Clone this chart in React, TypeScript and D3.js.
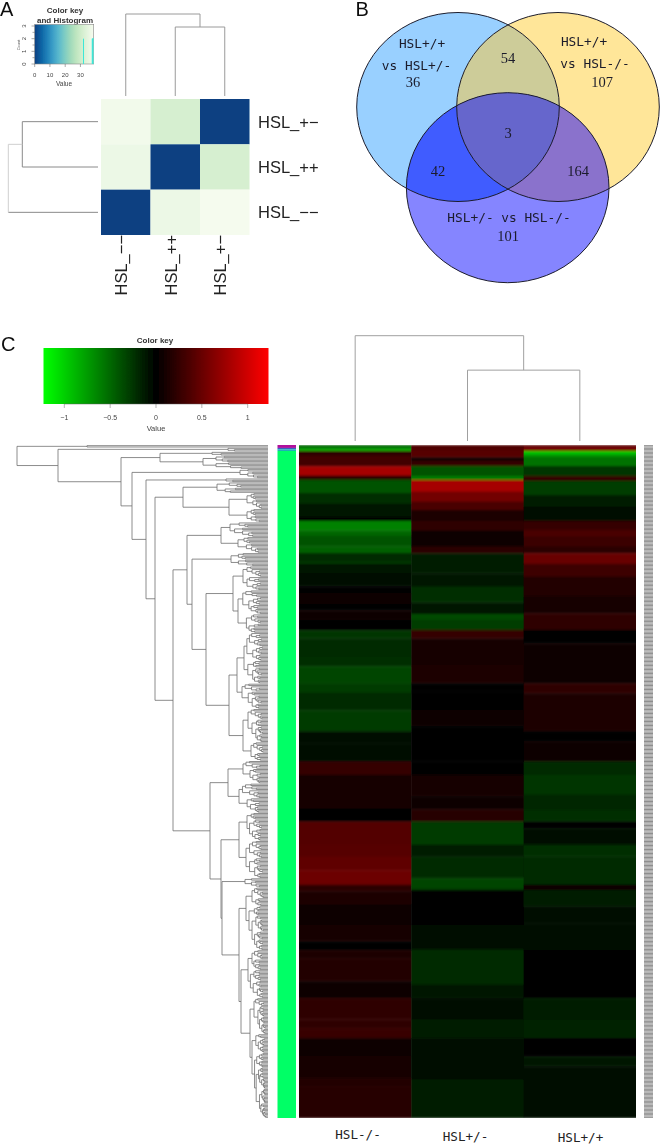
import React from "react";
import * as d3 from "d3";

// ---------- Panel A data ----------
const matrixRows = ["HSL_+−", "HSL_++", "HSL_−−"];
const matrixCols = ["HSL_−−", "HSL_++", "HSL_+−"];
const matrixValues = [
  [37.6, 31.5, 0],
  [36.4, 0, 31.5],
  [0, 36.4, 38.2],
];
const keyATicksX = [0, 10, 20, 30];
const keyATicksY = [0, 1, 2, 3];
const keyAMinorY = [0.5, 1.5, 2.5];
const histBins = [32, 38];
const histCounts = [2, 2];

// ---------- Panel B data ----------
const vennOnly = { a: 36, b: 107, c: 101 };
const vennPairs = { ab: 54, ac: 42, bc: 164 };
const vennAll = 3;

// ---------- Panel C data ----------
const geneColumns = ["HSL-/-", "HSL+/-", "HSL+/+"];
const geneRowCount = 505;
const keyCTicks = [-1, -0.5, 0, 0.5, 1];
// [last row of the band, log-ratio value]
const bandsKO: [number, number][] = [
  [2.5, -0.5], [4.5, -0.8], [8, 0.22], [16, 0.32], [23, 0.8], [26, 0.2], [36, -0.4], [44, -0.22], [54, -0.12], [57, -0.03],
  [64, -0.62], [68, -0.5], [76, -0.4], [81, -0.46], [87.5, -0.2], [89, -0.3], [96, -0.12], [106, -0.07], [111, -0.03], [119, 0.07],
  [124, 0.02], [131, 0.07], [139, 0], [145, -0.25], [159, -0.2], [166, -0.22], [179, -0.33], [186, -0.28], [199, -0.2], [215, -0.28],
  [224, -0.07], [231, -0.07], [237.5, -0.05], [247.5, 0.25], [273, 0.1], [282.5, 0], [300, 0.4], [309, 0.42], [319, 0.46], [330, 0.52],
  [335, 0.2], [345, 0.13], [360, 0.07], [372.5, 0.1], [379, 0.02], [385, 0.15], [402.5, 0.17], [415, 0.08], [431, 0.22], [437.5, 0.22],
  [445, 0.27], [459, 0.08], [475, 0.12], [481, 0.17], [505, 0.18],
];
const bandsHet: [number, number][] = [
  [3.75, 0.38], [9.25, 0.42], [11.75, 0.05], [15.75, 0.25], [23.25, -0.4], [26.25, -0.6], [35, 0.8], [42.5, 0.55], [48.75, 0.35], [57, 0.15],
  [64.25, 0.22], [68.75, 0.08], [76.25, 0.05], [81.25, 0.2], [96.25, -0.13], [106.25, -0.12], [118, -0.22], [126.75, -0.12], [131.25, -0.35], [138.75, -0.3],
  [145, 0.25], [165, 0.12], [178.75, 0.15], [185, 0.01], [198.75, 0], [211.25, 0.06], [237.5, 0.01], [247.5, -0.02], [263.75, 0.12], [273.25, 0.06],
  [282.5, 0.18], [300, -0.28], [308.75, -0.13], [325, -0.2], [333.75, -0.33], [360, -0.01], [378.75, -0.07], [405, -0.2], [415, -0.12], [431.25, -0.07],
  [445, -0.15], [476.25, -0.08], [505, -0.14],
];
const bandsWT: [number, number][] = [
  [1.75, 0.45], [4.5, 0.55], [6.75, -0.95], [8.75, -0.75], [15.75, -0.55], [23.25, -0.25], [26.75, 0.25], [37.5, -0.3], [46.25, -0.15], [57, -0.05],
  [63.75, 0.25], [68.75, 0.35], [76.25, 0.28], [81.25, 0.2], [89.25, 0.5], [98.75, 0.3], [113.75, 0.16], [126.25, 0.09], [138.75, 0.22], [148.75, 0],
  [168.75, 0.05], [178.75, 0.08], [186.25, 0.22], [215, 0.14], [222.5, 0.02], [237.5, 0.08], [247.5, -0.2], [262.5, -0.25], [273.75, -0.18], [282.5, -0.22],
  [287.5, -0.01], [300, -0.07], [308.75, -0.22], [330, -0.2], [333.75, 0.07], [346.25, -0.13], [358.75, -0.07], [378.75, -0.05], [415, 0.01], [431.25, -0.14],
  [445, -0.16], [458.75, -0.03], [466.25, -0.09], [505, -0.06],
];
const sideBands: [number, string][] = [[2.2, "#b0109c"], [3.2, "#3a60c0"], [4.5, "#20b0b8"], [505, "#00ff66"]];

// Row dendrogram: node = [mergeHeight, upper, lower]; twig = { n: leaves, h: mergeHeight }
type Twig = { n: number; h: number };
type Tree = Twig | [number, Tree, Tree];
const tw = (n: number, h: number): Twig => ({ n, h });
const geneTree: Tree = [251,
  [181, tw(1, 0), tw(1, 0)],
  [210, tw(3, 40),
    [147,
      [108, tw(3, 56), tw(10, 65)],
      [136, tw(7, 28),
        [122, tw(3, 42),
          [113,
            [85, tw(8, 51), [39, tw(12, 21), tw(10, 21)]],
            [95,
              [81,
                [47, tw(11, 38), tw(12, 30)],
                [76, tw(10, 37),
                  [62,
                    [35, tw(18, 25), tw(32, 30)],
                    [39,
                      [31, tw(38, 24), tw(19, 26)],
                      [25, tw(25, 20), tw(14, 17)]]]]],
              [58,
                [40, tw(17, 25), tw(22, 29)],
                [47,
                  [29, tw(21, 21), tw(28, 22)],
                  [46, tw(7, 23),
                    [29,
                      [22, tw(14, 16), tw(33, 19)],
                      [27, tw(36, 20), [18, tw(27, 14), tw(63, 16)]]]]]]]]]]]]];
// Fine twig shape, estimated: the leaf-level merges are too dense to read one by one.
const twigSplits = [0.42, 0.3, 0.55, 0.22, 0.48, 0.36];
const twigDecay = [0.8, 0.88, 0.72, 0.84, 0.76];
const colDendroHeights = { all: 105.5, sub: 71 };

// ---------- Scales ----------
const heatColor = d3.scaleLinear<string>().domain([-1.23, 0, 1.23]).range(["#00ff00", "#000000", "#ff0000"]);
const gnbu = (v: number) => d3.interpolateGnBu(1 - v / 38.7);

const rowY = d3.scaleLinear().domain([0, geneRowCount]).range([445, 1118]);
const colX = d3.scaleBand<string>().domain(geneColumns).range([299, 636]);
const treeX = d3.scaleLinear().domain([0, 251]).range([268, 17]);
const keyCX = d3.scaleLinear().domain([-1.227, 1.227]).range([43.5, 268.5]);
const keyAX = d3.scaleLinear().domain([0, 38.7]).range([34.7, 93.7]);
const keyAY = d3.scaleLinear().domain([0, 3]).range([64, 26]);
const matX = d3.scaleBand<string>().domain(matrixCols).range([101, 249.5]);
const matY = d3.scaleBand<string>().domain(matrixRows).range([99, 235]);

function buildTreePath(): string {
  const p = d3.path();
  let row = 0;
  const joint = (h: number, a: { y: number; h: number }, b: { y: number; h: number }) => {
    const x = treeX(h);
    p.moveTo(treeX(a.h), a.y); p.lineTo(x, a.y); p.lineTo(x, b.y); p.lineTo(treeX(b.h), b.y);
    return { y: (a.y + b.y) / 2, h };
  };
  const twig = (n: number, h: number, depth: number): { y: number; h: number } => {
    if (n <= 1) { const y = rowY(row + 0.5); row += 1; return { y, h: 0 }; }
    const left = Math.min(n - 1, Math.max(1, Math.round(n * twigSplits[(depth + n) % twigSplits.length])));
    const dec = twigDecay[(depth + left) % twigDecay.length];
    const a = twig(left, h * dec, depth + 1);
    const b = twig(n - left, h * twigDecay[(depth + n) % twigDecay.length], depth + 2);
    return joint(h, a, b);
  };
  const walk = (t: Tree): { y: number; h: number } => {
    if (!Array.isArray(t)) return twig(t.n, t.h, 0);
    const a = walk(t[1]);
    const b = walk(t[2]);
    return joint(t[0], a, b);
  };
  walk(geneTree);
  return p.toString();
}

const sans = "'Liberation Sans', Arial, sans-serif";
const mono = "'DejaVu Sans Mono', monospace";
const serif = "'Liberation Serif', serif";

const A = { cx: 458, cy: 107, rx: 101.3, ry: 94.5 };
const B = { cx: 558, cy: 107, rx: 101.3, ry: 94.5 };
const C = { cx: 507.7, cy: 187.7, rx: 101.3, ry: 95 };
const Ell = (e: typeof A, props: any) => <ellipse cx={e.cx} cy={e.cy} rx={e.rx} ry={e.ry} {...props} />;

function bandsToRects(bands: [number, number][]) {
  let start = 0;
  return bands.map(([end, v]) => {
    const r = { start, end, v };
    start = end;
    return r;
  });
}

export default function App() {
  const bandSets = [bandsKO, bandsHet, bandsWT];
  const treePath = buildTreePath();
  const gradA = d3.range(0, 11).map((i) => i / 10);
  const gx1 = colX("HSL-/-")! + colX.bandwidth() / 2;
  const gx2 = colX("HSL+/-")! + colX.bandwidth() / 2;
  const gx3 = colX("HSL+/+")! + colX.bandwidth() / 2;
  const dendroY = d3.scaleLinear().domain([0, 105.5]).range([441, 335.7]);
  const ax = matX(matrixCols[0])! + matX.bandwidth() / 2;
  const bx = matX(matrixCols[1])! + matX.bandwidth() / 2;
  const cx = matX(matrixCols[2])! + matX.bandwidth() / 2;
  const ry = matrixRows.map((r) => matY(r)! + matY.bandwidth() / 2);
  let sideStart = 0;

  return (
    <svg width={661} height={1145} style={{ position: "absolute", left: 0, top: 0, background: "#fff" }}>
      <defs>
        <linearGradient id="keyA">
          {gradA.map((t) => <stop key={t} offset={t} stopColor={gnbu(t * 38.7)} />)}
        </linearGradient>
        <linearGradient id="keyC">
          <stop offset="0" stopColor={heatColor(-1.23)} />
          <stop offset="0.5" stopColor={heatColor(0)} />
          <stop offset="1" stopColor={heatColor(1.23)} />
        </linearGradient>
        <clipPath id="clipA">{Ell(A, {})}</clipPath>
        <clipPath id="clipB">{Ell(B, {})}</clipPath>
        <clipPath id="clipC">{Ell(C, {})}</clipPath>
        <clipPath id="clipAB" clipPath="url(#clipA)">{Ell(B, {})}</clipPath>
        <clipPath id="clipHeat"><rect x={299} y={445} width={337} height={673} /></clipPath>
        <filter id="soft" x="-2%" y="-2%" width="104%" height="104%"><feGaussianBlur stdDeviation="0.5 1" /></filter>
        <filter id="soft2" x="-5%" y="-5%" width="110%" height="110%"><feGaussianBlur stdDeviation="0.35" /></filter>
      </defs>

      {/* Panel A */}
      <g filter="url(#soft2)">
        <text x={0} y={15.5} fontFamily={sans} fontSize={20} fill="#111">A</text>
        <text x={65} y={13} textAnchor="middle" fontFamily={sans} fontSize={8} fontWeight="bold" fill="#333">Color key</text>
        <text x={65} y={23} textAnchor="middle" fontFamily={sans} fontSize={8} fontWeight="bold" fill="#333">and Histogram</text>
        <rect x={keyAX(0)} y={24.5} width={59} height={39.5} fill="url(#keyA)" stroke="#888" strokeWidth={0.6} />
        {histBins.map((b, i) => (
          <line key={b} x1={keyAX(b)} x2={keyAX(b)} y1={keyAY(0)} y2={keyAY(histCounts[i])} stroke="#3ce8d8" strokeWidth={i === 0 ? 1 : 1.8} />
        ))}
        <line x1={keyAX(histBins[1]) - 0.5} x2={keyAX(38.7)} y1={keyAY(2)} y2={keyAY(2)} stroke="#3ce8d8" strokeWidth={0.8} />
        {keyATicksX.map((t) => (
          <g key={t}>
            <line x1={keyAX(t)} x2={keyAX(t)} y1={64} y2={67} stroke="#555" strokeWidth={0.5} />
            <text x={keyAX(t)} y={76.5} textAnchor="middle" fontFamily={sans} fontSize={6} fill="#444">{t}</text>
          </g>
        ))}
        {keyATicksY.map((t) => (
          <g key={t}>
            <line x1={31.5} x2={34.7} y1={keyAY(t)} y2={keyAY(t)} stroke="#555" strokeWidth={0.5} />
            <text transform={`translate(26,${keyAY(t)}) rotate(-90)`} textAnchor="middle" fontFamily={sans} fontSize={6} fill="#444">{t}</text>
          </g>
        ))}
        {keyAMinorY.map((t) => <line key={t} x1={32.5} x2={34.7} y1={keyAY(t)} y2={keyAY(t)} stroke="#555" strokeWidth={0.5} />)}
        <text transform="translate(19.5,45) rotate(-90)" textAnchor="middle" fontFamily={sans} fontSize={4} fill="#555">Count</text>
        <text x={64} y={86} textAnchor="middle" fontFamily={sans} fontSize={6.5} fill="#444">Value</text>

        {matrixRows.map((r, i) => matrixCols.map((c, j) => (
          <rect key={r + c} x={matX(c)} y={matY(r)} width={matX.bandwidth()} height={matY.bandwidth()} fill={gnbu(matrixValues[i][j])} />
        )))}
        <g fill="none" stroke="#9a9a9a" strokeWidth={1}>
          <path d={`M${ax},96V14H${(bx + cx) / 2}V27M${bx},96V27H${cx}V96`} />
          <path d={`M98,${ry[0]}H22.3V${ry[1]}H98M98,${ry[2]}H8.3`} stroke="#8a8a8a" />
          <path d={`M22.3,${(ry[0] + ry[1]) / 2}H8.3V${ry[2]}`} stroke="#cfcfcf" />
        </g>
        {matrixRows.map((r, i) => (
          <text key={r} x={258} y={ry[i] + 6} fontFamily={sans} fontSize={16.5} fill="#222">{r}</text>
        ))}
        {matrixCols.map((c) => (
          <text key={c} transform={`translate(${matX(c)! + matX.bandwidth() / 2 + 1.5},295.5) rotate(-90)`} fontFamily={sans} fontSize={16.5} fill="#222">{c}</text>
        ))}
      </g>

      {/* Panel B */}
      <g filter="url(#soft2)">
        <text x={355.5} y={15.5} fontFamily={sans} fontSize={20} fill="#111">B</text>
        {Ell(A, { fill: "#99d0ff" })}
        {Ell(B, { fill: "#ffe699" })}
        {Ell(C, { fill: "#8585ff" })}
        <g clipPath="url(#clipA)">{Ell(B, { fill: "#cdcc99" })}</g>
        <g clipPath="url(#clipA)">{Ell(C, { fill: "#3f5cff" })}</g>
        <g clipPath="url(#clipB)">{Ell(C, { fill: "#8a72cc" })}</g>
        <g clipPath="url(#clipAB)">{Ell(C, { fill: "#6666cc" })}</g>
        {[A, B, C].map((e, i) => <React.Fragment key={i}>{Ell(e, { fill: "none", stroke: "#1c1c2c", strokeWidth: 1 })}</React.Fragment>)}
        <g fontFamily={mono} fontSize={12.8} fill="#1a1a2a" textAnchor="middle">
          <text x={422} y={48}>HSL+/+</text>
          <text x={416.5} y={70}>vs HSL+/-</text>
          <text x={584} y={46}>HSL+/+</text>
          <text x={595} y={68}>vs HSL-/-</text>
          <text x={509} y={222}>HSL+/- vs HSL-/-</text>
        </g>
        <g fontFamily={serif} fontSize={14.5} fill="#1a1a2a" textAnchor="middle">
          <text x={413} y={87}>{vennOnly.a}</text>
          <text x={602} y={87}>{vennOnly.b}</text>
          <text x={508} y={241}>{vennOnly.c}</text>
          <text x={508} y={62.5}>{vennPairs.ab}</text>
          <text x={438} y={176}>{vennPairs.ac}</text>
          <text x={578} y={176}>{vennPairs.bc}</text>
          <text x={508} y={138}>{vennAll}</text>
        </g>
      </g>

      {/* Panel C */}
      <g filter="url(#soft2)">
        <text x={1} y={350.5} fontFamily={sans} fontSize={20} fill="#111">C</text>
        <text x={155} y={343} textAnchor="middle" fontFamily={sans} fontSize={8} fontWeight="bold" fill="#333">Color key</text>
        <rect x={43.5} y={348} width={225} height={56} fill="url(#keyC)" />
        {keyCTicks.map((t) => (
          <g key={t}>
            <line x1={keyCX(t)} x2={keyCX(t)} y1={404} y2={408} stroke="#666" strokeWidth={0.5} />
            <text x={keyCX(t)} y={420} textAnchor="middle" fontFamily={sans} fontSize={7} fill="#444">{String(t).replace("-", "−")}</text>
          </g>
        ))}
        <line x1={keyCX(-1)} x2={keyCX(1)} y1={404} y2={404} stroke="#666" strokeWidth={0.5} />
        <text x={156} y={430.5} textAnchor="middle" fontFamily={sans} fontSize={7.5} fill="#444">Value</text>

        <path d={`M${gx1},441V${dendroY(colDendroHeights.all)}H${(gx2 + gx3) / 2}V${dendroY(colDendroHeights.sub)}M${gx2},441V${dendroY(colDendroHeights.sub)}H${gx3}V441`} fill="none" stroke="#a0a0a0" strokeWidth={1} />
        <path d={treePath} fill="none" stroke="#6e6e6e" strokeWidth={0.8} />
      </g>
      {sideBands.map(([end, color]) => {
        const r = <rect key={end} x={277.5} y={rowY(sideStart)} width={18.5} height={rowY(end) - rowY(sideStart)} fill={color} />;
        sideStart = end;
        return r;
      })}
      <g clipPath="url(#clipHeat)">
        <g filter="url(#soft)">
          {bandSets.map((bands, c) => bandsToRects(bands).map((b) => (
            <rect key={c + "-" + b.start} x={colX(geneColumns[c])} y={rowY(b.start)} width={colX.bandwidth() + 0.5} height={rowY(b.end) - rowY(b.start) + 0.4} fill={heatColor(b.v)} />
          )))}
        </g>
      </g>
      <g stroke="#8e8e8e" strokeWidth={1.05}>
        {d3.range(geneRowCount).map((i) => <line key={i} x1={644} x2={653} y1={rowY(i + 0.5)} y2={rowY(i + 0.5)} />)}
      </g>
      <g fontFamily={mono} fontSize={12.6} fill="#222" textAnchor="middle">
        <text x={358} y={1139}>{geneColumns[0]}</text>
        <text x={465.5} y={1140.5}>{geneColumns[1]}</text>
        <text x={580.5} y={1142}>{geneColumns[2]}</text>
      </g>
    </svg>
  );
}
